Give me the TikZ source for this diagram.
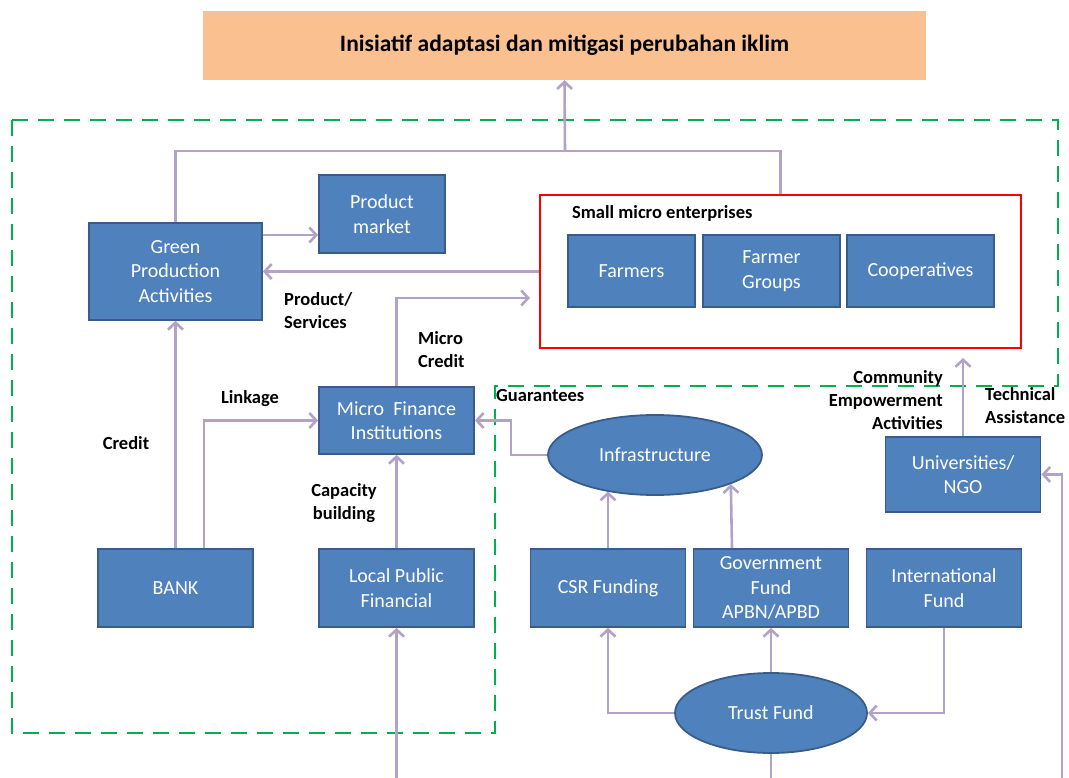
\documentclass[tikz,border=0pt]{standalone}
\usepackage{fontspec}
\setmainfont{Carlito}
\usetikzlibrary{arrows.meta,shapes.geometric}
\definecolor{boxfill}{HTML}{4F81BD}
\definecolor{boxline}{HTML}{385D8A}
\definecolor{flowc}{HTML}{B3A2C7}
\definecolor{zonec}{HTML}{00B050}
\definecolor{titlefill}{HTML}{FAC090}
\begin{document}
\begin{tikzpicture}[x=1pt,y=-1pt,
  unit/.style={draw=boxline, fill=boxfill, line width=1.8pt, text=white,
    align=center, inner sep=0pt, font=\fontsize{20}{24.5}\selectfont},
  oval/.style={unit, ellipse},
  lbl/.style={font=\fontsize{18.5}{23}\selectfont\bfseries, text=black, inner sep=0pt},
  flow/.style={draw=flowc, line width=2.6pt},
  arr/.style={flow, -{Straight Barb[length=7pt,width=15pt]}},
  zone/.style={draw=zonec, line width=2.6pt, dash pattern=on 16pt off 10pt}]
\useasboundingbox (0,0) rectangle (1069,778);

% dashed boundary of the local scope
\draw[zone] (12,120) -- (1058,120) -- (1058,386) -- (495,386) -- (495,733) -- (12,733) -- cycle;

% goal banner
\node[fill=titlefill, minimum width=723, minimum height=69, inner sep=0pt,
  font=\fontsize{23.5}{28}\selectfont\bfseries] (top) at (564.5,45.5)
  {Inisiatif adaptasi dan mitigasi perubahan iklim};

% actors
\node[unit, minimum width=173, minimum height=97] (gpa) at (175.5,271.5) {Green\\Production\\Activities};
\node[unit, minimum width=126, minimum height=78] (pm) at (382,214) {Product\\market};
\node[draw=red, line width=2pt, minimum width=481, minimum height=153, inner sep=0pt] (sme) at (780.5,271.5) {};
\node[lbl, anchor=west] (smelbl) at (572,213) {Small micro enterprises};
\node[unit, minimum width=127, minimum height=72] (farmers) at (631.5,271) {Farmers};
\node[unit, minimum width=137, minimum height=72] (fgroups) at (771.5,271) {Farmer\\Groups};
\node[unit, minimum width=147, minimum height=72] (coop) at (920.5,271) {Cooperatives};
\node[unit, minimum width=155, minimum height=67] (mfi) at (396.5,420.5) {Micro~~Finance\\Institutions};
\node[unit, minimum width=155, minimum height=78] (bank) at (175.5,588) {BANK};
\node[unit, minimum width=155, minimum height=78] (lpf) at (396.5,588) {Local Public\\Financial};
\node[oval, minimum width=214, minimum height=80] (infra) at (655,455) {Infrastructure};
\node[unit, minimum width=155, minimum height=78] (csr) at (608,588) {CSR Funding};
\node[unit, minimum width=155, minimum height=78] (gov) at (771,588) {Government\\Fund\\APBN/APBD};
\node[unit, minimum width=155, minimum height=78] (intl) at (944,588) {International\\Fund};
\node[unit, minimum width=155, minimum height=75] (univ) at (963,474.5) {Universities/\\NGO};
\node[oval, minimum width=192, minimum height=80] (trust) at (771,713) {Trust Fund};

% flow labels
\node[lbl] (lcredit) at (126,443) {Credit};
\node[lbl] (llink) at (250,399) {Linkage};
\node[lbl, align=center] (lcap) at (344,503) {Capacity\\building};
\node[lbl, align=left, anchor=west] (lprod) at (284,311) {Product/\\Services};
\node[lbl, align=left, anchor=west] (lmicro) at (418,349.5) {Micro\\Credit};
\node[lbl, anchor=west] (lguar) at (496,396) {Guarantees};
\node[lbl, align=right, anchor=east] (lcomm) at (943,400) {Community\\Empowerment\\Activities};
\node[lbl, align=left, anchor=west] (ltech) at (985,406) {Technical\\Assistance};

% free ends
\coordinate (join) at (565,152);
\coordinate (microin) at (530,298);
\coordinate (trustout) at (771,778);
\coordinate (lpfin) at (396.5,778);
\coordinate (ngoin) at (1062,778);
\coordinate (univout) at (963,358);

% connectors
\draw[flow] (gpa.north) -- ++(0,-71) -| (sme.north);
\draw[arr] (join) -- (top.south);
\draw[arr] ([yshift=36.5pt]gpa.east) -- ([yshift=36.5pt]gpa.east -| pm.west);
\draw[arr] (sme.west) -- (sme.west -| gpa.east);
\draw[arr] (mfi.north) |- (microin);
\draw[arr] (infra.west) -- ++(-36,0) |- (mfi.east);
\draw[arr] (bank.north) -- (gpa.south);
\draw[arr] ([xshift=28.5pt]bank.north) |- (mfi.west);
\draw[arr] (lpf.north) -- (mfi.south);
\draw[arr] (lpfin) -- (lpf.south);
\draw[arr] (csr.north) -- (csr.north |- infra.217);
\draw[arr] ([xshift=-39pt]gov.north) -- (infra.339);
\draw[arr] (trust.west) -| (csr.south);
\draw[arr] (trust.north) -- (gov.south);
\draw[arr] (intl.south) |- (trust.east);
\draw[flow] (trust.south) -- (trustout);
\draw[arr] (univ.north) -- (univout);
\draw[arr] (ngoin) |- (univ.east);
\end{tikzpicture}
\end{document}
